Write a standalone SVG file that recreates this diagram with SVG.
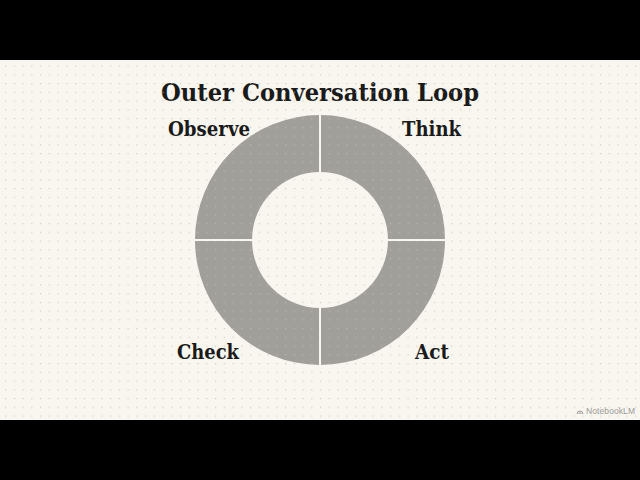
<svg xmlns="http://www.w3.org/2000/svg" width="640" height="480" viewBox="0 0 640 480">
<defs>
<pattern id="dots" x="5" y="65.5" width="8.75" height="8.75" patternUnits="userSpaceOnUse">
<rect x="0" y="0" width="1.2" height="1.2" fill="#c4c0b4"/>
</pattern>
<style>
.seg{fill:#a19f9a;}
.lbl{font-family:"DejaVu Serif","Liberation Serif",serif;font-weight:bold;font-size:19.5px;fill:#1a1a1a;}
.title{font-family:"DejaVu Serif","Liberation Serif",serif;font-weight:bold;font-size:24.5px;fill:#1a1a1a;}
.wm{font-family:"Liberation Sans","DejaVu Sans",sans-serif;font-size:8.5px;fill:#9a9a9a;}
</style>
</defs>
<rect x="0" y="0" width="640" height="480" fill="#000"/>
<rect x="0" y="60" width="640" height="360" fill="#f8f6ef"/>
<g id="title"><text class="title" x="161" y="101" textLength="318" lengthAdjust="spacingAndGlyphs">Outer Conversation Loop</text></g>
<g id="ring">
<path id="seg-observe" class="seg" d="M320,115 A125,125 0 0 0 195,240 L252,240 A68,68 0 0 1 320,172 Z"/>
<path id="seg-think" class="seg" d="M320,115 A125,125 0 0 1 445,240 L388,240 A68,68 0 0 0 320,172 Z"/>
<path id="seg-act" class="seg" d="M445,240 A125,125 0 0 1 320,365 L320,308 A68,68 0 0 0 388,240 Z"/>
<path id="seg-check" class="seg" d="M320,365 A125,125 0 0 1 195,240 L252,240 A68,68 0 0 0 320,308 Z"/>
</g>
<rect x="0" y="60" width="640" height="360" fill="url(#dots)" opacity="0.75"/>
<g id="connectors" stroke="#f8f6ef" stroke-width="2">
<line x1="320" y1="114" x2="320" y2="173"/>
<line x1="320" y1="307" x2="320" y2="366"/>
<line x1="194" y1="240" x2="253" y2="240"/>
<line x1="387" y1="240" x2="446" y2="240"/>
</g>
<g id="observe"><text class="lbl" x="168" y="136" textLength="82" lengthAdjust="spacingAndGlyphs">Observe</text></g>
<g id="think"><text class="lbl" x="402" y="136" textLength="59" lengthAdjust="spacingAndGlyphs">Think</text></g>
<g id="check"><text class="lbl" x="177" y="359" textLength="62" lengthAdjust="spacingAndGlyphs">Check</text></g>
<g id="act"><text class="lbl" x="415" y="359" textLength="34" lengthAdjust="spacingAndGlyphs">Act</text></g>
<g id="watermark">
<path d="M577,414 a3,3 0 0 1 6,0 M578.8,414 a1.2,1.2 0 0 1 2.4,0" fill="none" stroke="#9a9a9a" stroke-width="1"/>
<text class="wm" x="586" y="414" textLength="49">NotebookLM</text>
</g>
</svg>
